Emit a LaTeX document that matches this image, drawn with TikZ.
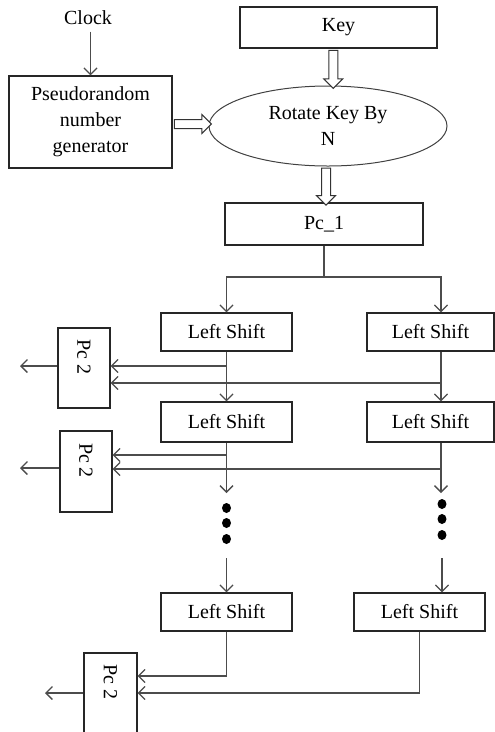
\documentclass[tikz,border=0pt]{standalone}
\usepackage{graphicx}
\usepackage{fontspec}
\setmainfont{Liberation Serif}
\usetikzlibrary{shapes.geometric, shapes.arrows, arrows.meta, calc, positioning}
\tikzset{
  box/.style={rectangle, draw=black!85, line width=1.3pt, inner sep=0pt, align=center},
  lshift/.style={box, minimum width=131pt, minimum height=38pt},
  pctwo/.style={box, minimum width=52pt, minimum height=80pt},
  hollow/.style={single arrow, draw=black!80, line width=1pt, fill=white, inner xsep=0pt, inner ysep=4pt, minimum width=0pt, single arrow head extend=5pt, single arrow head indent=0pt},
  arrow/.style={-{Straight Barb[length=6.5pt,width=13pt]}, line width=1.3pt, draw=black!70},
  line/.style={line width=1.3pt, draw=black!70}
}
\begin{document}
\begin{tikzpicture}[x=1pt, y=-1pt, every node/.style={font=\fontsize{20}{26}\selectfont}]
  \useasboundingbox (0,0) rectangle (495,732);
  \clip (0,0) rectangle (495,732);

  % Nodes
  \node (clock) at (88,18) {Clock};
  \node[box, minimum width=163pt, minimum height=92pt] (prng) at (90.5,122) {Pseudorandom\\number\\generator};
  \node[box, minimum width=197pt, minimum height=41pt] (key) at (338.5,27.5) {Key};
  \node[ellipse, draw=black!75, line width=1pt, minimum width=238pt, minimum height=80pt, inner sep=0pt, align=center] (rot) at (328,126) {Rotate Key By\\N};
  \node[box, minimum width=198pt, minimum height=42pt] (pc1) at (324,224) {Pc\_1};

  \node[lshift] (l1) at (226.5,332) {Left Shift};
  \node[lshift, minimum width=127pt] (r1) at (430.5,332) {Left Shift};
  \node[lshift, minimum height=40pt] (l2) at (226.5,422) {Left Shift};
  \node[lshift, minimum width=127pt, minimum height=40pt] (r2) at (430.5,422) {Left Shift};
  \node[lshift] (l3) at (226.5,612) {Left Shift};
  \node[lshift] (r3) at (419.5,612) {Left Shift};

  \node[pctwo] (pc2a) at (84,368) {\rotatebox{-90}{Pc 2\hspace{22pt}}};
  \node[pctwo, minimum height=81pt] (pc2b) at (86,471.5) {\rotatebox{-90}{Pc 2\hspace{22pt}}};
  \node[pctwo, minimum width=53pt] (pc2c) at (110.5,693) {\rotatebox{-90}{Pc 2\hspace{22pt}}};

  % Hollow arrows
  \node[hollow, rotate=-90, minimum height=38pt] (hk) at ($(key.south)!0.5!(rot.north)$) {};
  \node[hollow, minimum height=37pt] (hp) at ($(prng.east)!0.5!(rot.west)$) {};
  \node[hollow, rotate=-90, minimum height=37pt] (hc) at ($(rot.south)!0.5!(pc1.north)$) {};

  % Coordinates
  \coordinate (split) at (324,277);
  \coordinate (colR) at (441,0);
  \coordinate (t1) at (226.5,366);
  \coordinate (t2) at (441,383);
  \coordinate (t3) at (226.5,455);
  \coordinate (t4) at (441,469);
  \coordinate (dL) at (226.5,493);
  \coordinate (dR) at (441,493);
  \coordinate (eL) at (226.5,558);
  \coordinate (eR) at (442,558);
  \coordinate (o1) at (20,366);
  \coordinate (o2) at (20,468);
  \coordinate (o3) at (45,693);

  % Arrows
  \draw[arrow, shorten <=3pt] (prng.north |- clock.south) -- (prng.north);
  \draw[line] (pc1.south) -- (split);
  \draw[arrow] (split) -| (l1.north);
  \draw[arrow] (split) -| (r1.north -| colR);

  \draw[arrow] (l1.south) -- (l2.north);
  \draw[arrow] (r1.south -| colR) -- (r2.north -| colR);
  \draw[arrow] (t1) -- (t1 -| pc2a.east);
  \draw[arrow] (t2) -- (t2 -| pc2a.east);
  \draw[arrow] (pc2a.west |- o1) -- (o1);

  \draw[arrow] (l2.south) -- (dL);
  \draw[arrow] (r2.south -| colR) -- (dR);
  \draw[arrow] (t3) -- (t3 -| pc2b.east);
  \draw[arrow] (t4) -- (t4 -| pc2b.east);
  \draw[arrow] (pc2b.west |- o2) -- (o2);

  % Dots
  \foreach \y in {508,523,539} \fill (226.5,\y) ellipse (4.5 and 5);
  \foreach \y in {504,519,535} \fill (442,\y) ellipse (4.5 and 5);

  \draw[arrow] (eL) -- (l3.north);
  \draw[arrow] (eR) -- (r3.north -| eR);
  \draw[arrow] (l3.south) |- ($(pc2c.east)+(0,-17)$);
  \draw[arrow] (r3.south) |- (pc2c.east);
  \draw[arrow] (pc2c.west) -- (o3);
\end{tikzpicture}
\end{document}
